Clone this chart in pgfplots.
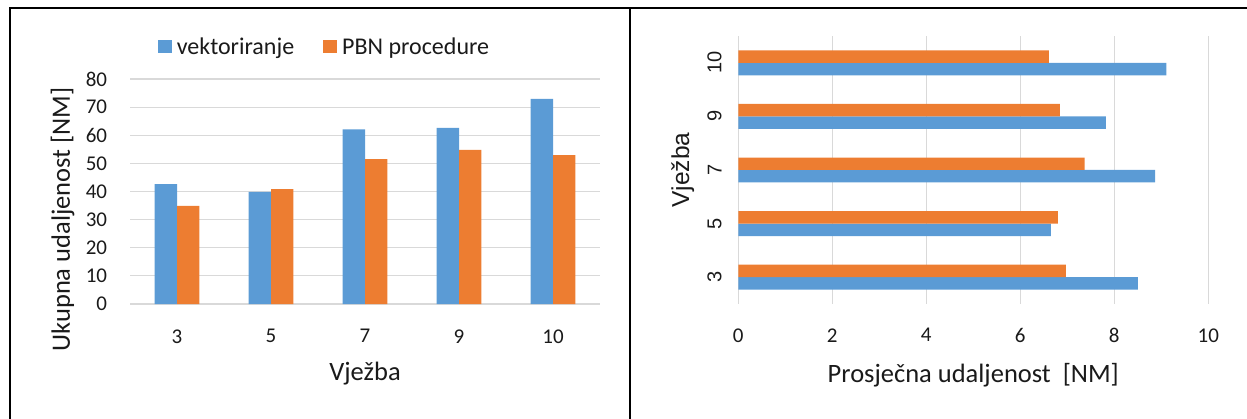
\documentclass[border=0pt]{standalone}
\usepackage{pgfplots}
\pgfplotsset{compat=1.18}
\usepackage{fontspec}
\setmainfont{Carlito}
\newfontfamily\arialf{Liberation Sans}
\definecolor{cblue}{HTML}{5B9BD5}
\definecolor{corange}{HTML}{ED7D31}
\definecolor{cgrid}{HTML}{D9D9D9}
\definecolor{ctext}{HTML}{1A1A1A}
\begin{document}
\begin{tikzpicture}
\useasboundingbox (0,0) rectangle (1247bp,419bp);
% panel frames
\draw[line width=2bp] (9.5bp,0) -- (9.5bp,411.3bp) -- (1247bp,411.3bp);
\draw[line width=2bp] (629.5bp,0) -- (629.5bp,411.3bp);

% ---------- left chart ----------
\begin{axis}[
  at={(130bp,115bp)}, anchor=south west,
  scale only axis, width=470bp, height=225bp,
  xmin=-0.5, xmax=4.5, ymin=0, ymax=80,
  enlargelimits=false,
  xtick={0,1,2,3,4}, xticklabels={3,5,7,9,10},
  ytick={0,10,...,80},
  ymajorgrids, grid style={cgrid, line width=1.2bp},
  axis line style={draw=none},
  major tick length=0pt,
  /pgf/number format/assume math mode=true,
  tick label style={font=\fontsize{21bp}{25bp}\selectfont, text=ctext, inner sep=0pt},
  xticklabel shift=25.3bp,
  yticklabel shift=22.7bp,
  xlabel={Vježba},
  ylabel={Ukupna udaljenost [NM]},
  label style={font=\fontsize{26.5bp}{30bp}\selectfont, text=ctext, inner sep=0pt},
  xlabel style={at={(axis description cs:0.5,-0.311)}, anchor=center},
  ylabel style={at={(axis description cs:-0.1277,0.3756)}, anchor=base},
  legend columns=2,
  legend style={at={(axis description cs:0.4117,1.144)}, anchor=center,
    draw=none, fill=none, font=\fontsize{24bp}{28bp}\selectfont, text=ctext,
    nodes={inner sep=0pt},
    /tikz/every even column/.append style={column sep=29bp}},
  legend image code/.code={\fill[#1] (0bp,-6.85bp) rectangle (13.7bp,6.85bp); \path (19bp,0bp);},
]
\addplot[ybar, fill=cblue, draw=none, bar width=0.2375, bar shift=-0.11875]
  coordinates {(0,42.6) (1,39.9) (2,62.1) (3,62.6) (4,72.9)};
\addlegendentry{vektoriranje}
\addplot[ybar, fill=corange, draw=none, bar width=0.2375, bar shift=0.11875]
  coordinates {(0,34.9) (1,40.8) (2,51.5) (3,54.8) (4,52.9)};
\addlegendentry{PBN procedure}
\end{axis}

% ---------- right chart ----------
\begin{axis}[
  at={(738.3bp,115bp)}, anchor=south west,
  scale only axis, width=470bp, height=268bp,
  xmin=0, xmax=10, ymin=-0.5, ymax=4.5,
  enlargelimits=false,
  xtick={0,2,...,10},
  ytick={0,1,2,3,4}, yticklabels={3,5,7,9,10},
  xmajorgrids, grid style={cgrid, line width=1.2bp},
  axis line style={draw=none},
  major tick length=0pt,
  /pgf/number format/assume math mode=true,
  xticklabel style={font=\fontsize{21bp}{25bp}\selectfont, text=ctext, inner sep=0pt},
  yticklabel style={font=\arialf\fontsize{20bp}{24bp}\selectfont, text=ctext, inner sep=0pt, rotate=90, anchor=south},
  xticklabel shift=24.3bp,
  yticklabel shift=16.6bp,
  xlabel={Prosječna udaljenost~ [NM]},
  ylabel={Vježba},
  xlabel style={font=\fontsize{26.5bp}{30bp}\selectfont, text=ctext, inner sep=0pt,
    at={(axis description cs:0.5,-0.265)}, anchor=center},
  ylabel style={font=\arialf\fontsize{24.5bp}{28bp}\selectfont, text=ctext, inner sep=0pt,
    at={(axis description cs:-0.1049,0.5)}, anchor=base},
]
\addplot[xbar, fill=cblue, draw=none, bar width=0.233, bar shift=-0.1165]
  coordinates {(8.50,0) (6.65,1) (8.87,2) (7.82,3) (9.11,4)};
\addplot[xbar, fill=corange, draw=none, bar width=0.233, bar shift=0.1165]
  coordinates {(6.97,0) (6.80,1) (7.37,2) (6.84,3) (6.61,4)};
\end{axis}
\end{tikzpicture}
\end{document}
